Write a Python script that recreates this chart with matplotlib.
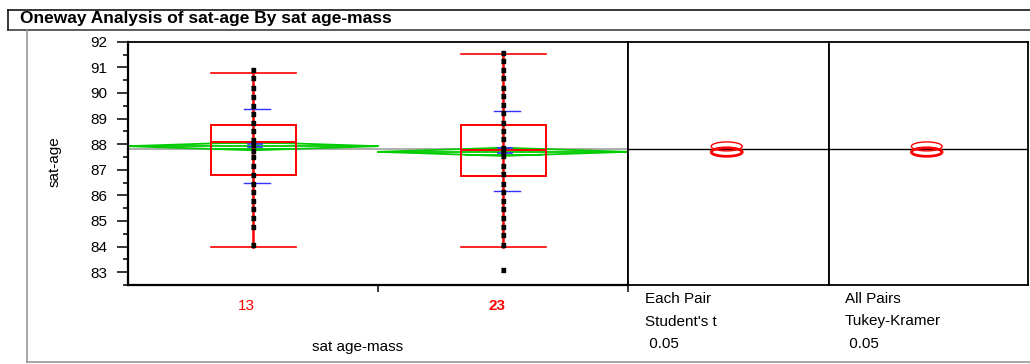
import numpy as np
import matplotlib
matplotlib.use("Agg")
from matplotlib import pyplot as plt
from matplotlib.patches import Ellipse, Polygon
from matplotlib.lines import Line2D

plt.rcParams['font.family'] = ['Liberation Sans', 'DejaVu Sans']

# data
groups = ['13', '23']
values_13 = [90.88, 90.58, 90.19, 89.86, 89.50, 89.19, 88.81, 88.52, 88.18, 87.98,
             87.74, 87.50, 87.15, 86.81, 86.45, 86.12, 85.77, 85.45, 85.12, 84.77, 84.05]
values_23 = [91.55, 91.25, 90.89, 90.57, 90.19, 89.87, 89.51, 89.21, 88.81, 88.52,
             88.20, 87.83, 87.68, 87.53, 87.15, 86.82, 86.45, 86.14, 85.77, 85.45,
             85.12, 84.77, 84.44, 84.06, 83.08]
box_q1 = [86.81, 86.75]
box_median = [88.10, 87.76]
box_q3 = [88.73, 88.73]
whisker_lo = [84.0, 84.0]
whisker_hi = [90.79, 91.51]
group_mean = [87.92, 87.70]
mean_ci = [0.16, 0.16]
sd_lo = [86.47, 86.17]
sd_hi = [89.38, 89.28]
mean_bar_lo = [87.87, 87.65]
mean_bar_hi = [88.00, 87.85]
grand_mean = 87.80
circle_radius = [0.175, 0.165]

W, H = 1030, 364
def fx(x):
    return x / W
def fy(y):
    return 1 - y / H

fig = plt.figure(figsize=(W / 100, H / 100), dpi=100)

y_top, y_bot = 41.7, 285
ax1 = fig.add_axes([fx(128), fy(y_bot), 500 / W, (y_bot - y_top) / H])
ax2 = fig.add_axes([fx(628), fy(y_bot), 201 / W, (y_bot - y_top) / H])
ax3 = fig.add_axes([fx(829), fy(y_bot), 199 / W, (y_bot - y_top) / H])

red = '#ff0000'
green = '#00cc00'
blue = '#3030ff'
fs = 11

for ax in (ax1, ax2, ax3):
    ax.set_ylim(82.52, 92)
    for s in ax.spines.values():
        s.set_linewidth(1.3)
        s.set_color('black')

# main oneway plot
ax1.set_xlim(-0.5, 1.5)
ax1.axhline(grand_mean, color='#a0a0a0', lw=1.2, zorder=1)
all_vals = [values_13, values_23]
rect = [(-1.5, -1), (1.5, -1), (1.5, 1), (-1.5, 1)]
for i in range(len(groups)):
    m, c = group_mean[i], mean_ci[i]
    # mean diamond
    ax1.add_patch(Polygon([(i - 0.5, m), (i, m + c), (i + 0.5, m), (i, m - c)],
                          closed=True, fill=False, ec=green, lw=1.3, zorder=2))
    ax1.plot([i - 0.5, i + 0.5], [m, m], color=green, lw=1.3, zorder=2)
    for d in (0.7 * c, -0.7 * c):
        ax1.plot([i - 0.15, i + 0.15], [m + d, m + d], color=green, lw=1.3, zorder=2)
    # box plot
    ax1.plot([i, i], [whisker_lo[i], whisker_hi[i]], color=red, lw=1.8, zorder=3)
    for w in (whisker_lo[i], whisker_hi[i]):
        ax1.plot([i - 0.17, i + 0.17], [w, w], color=red, lw=1.2, zorder=3)
    ax1.add_patch(plt.Rectangle((i - 0.17, box_q1[i]), 0.34, box_q3[i] - box_q1[i],
                                fill=False, ec=red, lw=1.4, zorder=3))
    ax1.plot([i - 0.17, i + 0.17], [box_median[i], box_median[i]], color=red, lw=1.4, zorder=3)
    # std dev lines and mean error bar
    for s in (sd_lo[i], sd_hi[i]):
        ax1.plot([i - 0.036, i + 0.068], [s, s], color=blue, lw=1.0, zorder=4)
    for b in (mean_bar_lo[i], mean_bar_hi[i]):
        ax1.plot([i - 0.02, i + 0.036], [b, b], color=blue, lw=1.2, zorder=4)
    ax1.plot([i + 0.008, i + 0.008], [mean_bar_lo[i], mean_bar_hi[i]], color=blue, lw=1.2, zorder=4)
    # points
    ax1.plot(np.full(len(all_vals[i]), i), all_vals[i], ls='none', marker=rect,
             ms=3.3, color='black', zorder=5)

ax1.set_yticks(np.arange(83, 93, 1))
ax1.set_yticks(np.arange(82.5, 92, 1), minor=True)
ax1.tick_params(axis='y', which='major', length=8, width=1.1, labelsize=fs, pad=7)
ax1.tick_params(axis='y', which='minor', length=3.6, width=1.1)
ax1.spines['left'].set_linewidth(1.6)
ax1.spines['bottom'].set_linewidth(1.6)
ax1.set_xticks([0.5, 1.5])
ax1.set_xticklabels(['', ''])
ax1.tick_params(axis='x', length=5, width=1.1, direction='out')

# comparison circles panels
for ax in (ax2, ax3):
    ax.set_xlim(0, 1)
    ax.set_xticks([])
    ax.set_yticks([])
    ax.axhline(grand_mean, color='black', lw=1.0, zorder=1)
    for i in range(len(groups)):
        ax.add_patch(Ellipse((0.491, group_mean[i]), 0.154, 2 * circle_radius[i],
                             transform=ax.get_yaxis_transform(), fill=False,
                             ec=red, lw=1.0 if i == 0 else 2.0, zorder=3))

# labels
ax1.text(0 - 0.025, -0.086, '13', transform=ax1.get_xaxis_transform(), color=red,
         fontsize=fs, ha='center', va='center')
ax1.text(1 - 0.025, -0.086, '23', transform=ax1.get_xaxis_transform(), color=red,
         fontsize=fs, fontweight='bold', ha='center', va='center')
fig.text(fx(358), fy(347), 'sat age-mass', fontsize=fs, ha='center', va='center')
fig.text(fx(55), fy(162), 'sat-age', fontsize=fs, ha='center', va='center', rotation=90)

for x0, lines in ((645, ['Each Pair', "Student's t", ' 0.05']),
                  (845, ['All Pairs', 'Tukey-Kramer', ' 0.05'])):
    for yy, t in zip((299, 321.5, 343.5), lines):
        fig.text(fx(x0), fy(yy), t, fontsize=fs, ha='left', va='center')

# report frame
fig.text(fx(20), fy(22.5), 'Oneway Analysis of sat-age By sat age-mass',
         fontsize=12.5, fontweight='bold', ha='left', va='baseline')
fig.add_artist(Line2D([fx(7.5), 1], [fy(10), fy(10)], color='black', lw=1.1))
fig.add_artist(Line2D([fx(7.5), fx(7.5)], [fy(10), fy(29.5)], color='black', lw=1.1))
fig.add_artist(Line2D([fx(7.5), 1], [fy(29.5), fy(29.5)], color='#303030', lw=1.1))
fig.add_artist(Line2D([fx(27), fx(27)], [fy(29.5), fy(362)], color='#909090', lw=1.1))
fig.add_artist(Line2D([fx(27), 1], [fy(362), fy(362)], color='#909090', lw=1.1))

plt.savefig('out.png', dpi=100)
